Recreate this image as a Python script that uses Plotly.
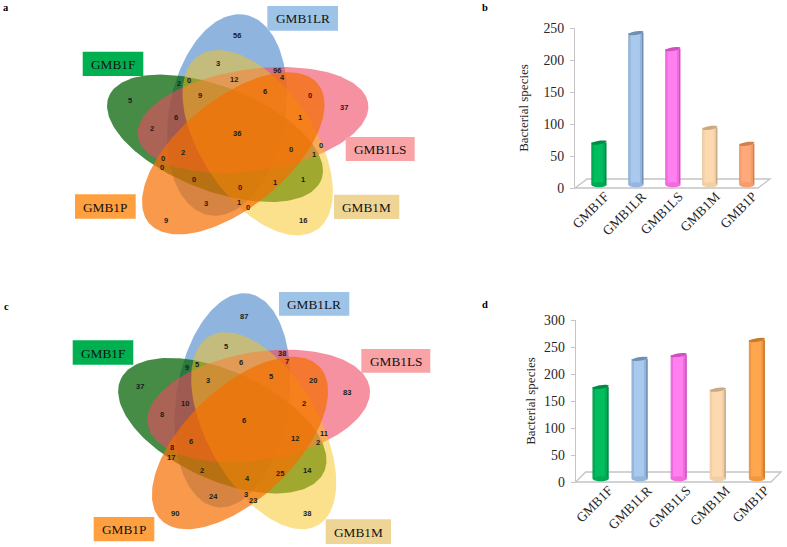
import numpy as np
import plotly.graph_objects as go

W, H = 787, 547

# ---- data ----
categories = ["GMB1F", "GMB1LR", "GMB1LS", "GMB1M", "GMB1P"]
species_b = [66, 237, 212, 89, 64]
species_d = [170, 222, 229, 165, 257]

counts_a = ["56", "3", "96", "12", "4", "2", "0", "5", "9", "6", "0", "37", "6", "1", "2", "36",
            "0", "0", "2", "1", "0", "0", "0", "1", "1", "0", "3", "1", "0", "9", "16"]
counts_c = ["87", "5", "38", "7", "6", "9", "5", "37", "3", "5", "20", "83", "10", "2", "8", "6",
            "11", "12", "6", "2", "8", "17", "2", "14", "25", "4", "3", "24", "23", "90", "38"]

# ---- layout of the diagrams (pixels) ----
pos_a = [(531,107),(475,191),(652,211),(522,237),(668,233),(357,250),(386,242),(211,302),(419,286),
         (616,274),(749,287),(852,322),(348,351),(721,351),(277,384),(531,400),(782,435),(692,448),
         (368,457),(762,462),(310,474),(305,502),(401,538),(645,546),(730,538),(541,562),(437,611),
         (537,608),(563,623),(318,660),(730,660)]
pos_c = [(551,110),(497,200),(667,220),(682,245),(542,248),(382,262),(412,253),(241,318),(443,300),
         (633,288),(760,300),(860,338),(374,371),(733,371),(306,404),(552,422),(792,460),(706,474),
         (393,483),(773,488),(337,502),(333,532),(427,570),(742,570),(660,579),(561,596),(557,644),
         (460,648),(580,660),(345,700),(741,700)]

venn_order = ["GMB1LR", "GMB1F", "GMB1LS", "GMB1M", "GMB1P"]
venn_fill = {"GMB1LR": "rgba(95,148,208,0.7)", "GMB1LS": "rgba(238,72,97,0.6)",
             "GMB1F": "rgba(8,102,8,0.75)", "GMB1M": "rgba(249,195,25,0.5)",
             "GMB1P": "rgba(245,110,0,0.7)"}
venn_angle = {"GMB1LR": 82, "GMB1LS": 10, "GMB1F": 154, "GMB1M": 118, "GMB1P": 46}
centres_a = {"GMB1LR": (227,115), "GMB1LS": (253,120), "GMB1F": (215,138.3),
             "GMB1M": (257.7,142.7), "GMB1P": (233.3,153.3)}
centres_c = {"GMB1LR": (232.3,400.3), "GMB1LS": (258.7,406), "GMB1F": (222.3,425.7),
             "GMB1M": (263.7,430.7), "GMB1P": (240,443)}

box_colour = {"GMB1F": "#00B050", "GMB1LR": "#9DC3E6", "GMB1LS": "#F9A3A6",
              "GMB1M": "#EFD595", "GMB1P": "#FFA040"}
boxes_a = {"GMB1LR": (267.3,6,338,30.7), "GMB1F": (82.7,51.7,143.3,76), "GMB1LS": (345.7,137,414.7,161),
           "GMB1M": (334,194.7,399.3,219), "GMB1P": (75,194.3,135.7,218.7)}
boxes_c = {"GMB1LR": (279,292,349.3,315.7), "GMB1F": (72.7,340.3,133.3,364.7), "GMB1LS": (361.3,349,430.3,372.7),
           "GMB1M": (325.7,519.3,391,544), "GMB1P": (93.7,517,154.3,541.3)}

ramps_b = [("#008a45","#00a954","#00bd5e"), ("#6f8fb5","#92b6dd","#a9caec"), ("#d050c0","#f26ae0","#ff80ee"),
           ("#c9a883","#f2cfa5","#fcd9ae"), ("#cf7f52","#f59c6c","#ffa97a")]
ramps_d = [("#008a45","#00a954","#00bd5e"), ("#6f8fb5","#92b6dd","#a9caec"), ("#d050c0","#f26ae0","#ff80ee"),
           ("#c9a883","#f2cfa5","#fcd9ae"), ("#c97a2c","#f0983f","#ffa64f")]

SERIF = "Liberation Serif"
SANS = "Liberation Sans"
GREY = "#c4c4c4"
TXT = "#262626"

fig = go.Figure()
shapes, notes = [], []

def venn(centres, counts, pos, boxes, ox, oy, sx, sy):
    t = np.linspace(0, 2*np.pi, 181)
    for name in venn_order:
        th = np.radians(venn_angle[name])
        u, v = np.cos(t), 0.5*np.sin(t)
        cx, cy = centres[name]
        px = cx + sx*(u*np.cos(th) - v*np.sin(th))
        py = cy - sy*(u*np.sin(th) + v*np.cos(th))
        fig.add_trace(go.Scatter(x=px, y=py, xaxis="x", yaxis="y", mode="lines", line=dict(width=0),
                                 fill="toself", fillcolor=venn_fill[name], hoverinfo="skip", showlegend=False))
    for s, (zx, zy) in zip(counts, pos):
        notes.append(dict(x=ox+zx/3, y=oy+zy/3, text=s, xref="x", yref="y", showarrow=False,
                          font=dict(family=SANS, size=7.5, color="#1c1c1c", weight="bold")))
    for name, (x0, y0, x1, y1) in boxes.items():
        shapes.append(dict(type="rect", x0=x0, x1=x1, y0=y0, y1=y1, xref="x", yref="y",
                           fillcolor=box_colour[name], line=dict(width=0), layer="above"))
        notes.append(dict(x=(x0+x1)/2, y=(y0+y1)/2+0.5, text=name, xref="x", yref="y", showarrow=False,
                          font=dict(family=SERIF, size=13.3, color="#111")))

venn(centres_a, counts_a, pos_a, boxes_a, 60, 0, 116.7, 101.5)
venn(centres_c, counts_c, pos_c, boxes_c, 60, 280, 112.6, 107.9)

def ellipse_path(cx, cy, rx, ry, tilt):
    t = np.linspace(0, 2*np.pi, 41)
    xs = cx + rx*np.cos(t)
    ys = cy + ry*np.sin(t) + tilt*np.cos(t)
    return "M" + "L".join(f"{a:.4f},{b:.3f}" for a, b in zip(xs, ys)) + "Z"

def bars(vals, ramps, ax, ay, lift, upp, width):
    idx = list(range(len(categories)))
    base = [lift]*len(vals)
    layers = [(1.0, 0), (0.90, 1), (0.62, 2)]
    for frac, k in layers:
        w = width*frac
        fig.add_trace(go.Bar(x=idx, y=vals, base=base, xaxis=ax, yaxis=ay, width=w,
                             offset=-w/2 - width*(0.05 if k else 0),
                             marker=dict(color=[r[k] for r in ramps], line=dict(width=0)),
                             hoverinfo="skip", showlegend=False))
    for i, v in enumerate(vals):
        hw = width/2
        shapes.append(dict(type="path", xref=ax, yref=ay, layer="above", line=dict(width=0),
                           path=ellipse_path(i, lift, hw, 2.5*upp, 0), fillcolor=ramps[i][1]))
        shapes.append(dict(type="path", xref=ax, yref=ay, layer="above", line=dict(width=0),
                           path=ellipse_path(i, v+lift, hw, 1.8*upp, 1.2*upp), fillcolor=ramps[i][0]))

bars(species_b, ramps_b, "x2", "y2", 5, 250/160, 0.405)
bars(species_d, ramps_d, "x3", "y3", 6, 300/162, 0.41)

# floors of the two bar panels
for (x0, x1, y0, dx, dy) in [(575, 758, 188, 12, 9), (575.7, 771, 482, 10, 10)]:
    shapes.append(dict(type="path", xref="x", yref="y", layer="below", line=dict(color=GREY, width=1.3),
                       path=f"M{x0},{y0}L{x1},{y0}L{x1+dx},{y0-dy}L{x0+dx},{y0-dy}Z", fillcolor="rgba(0,0,0,0)"))

for s, x, y in [("a", 6, 7), ("b", 485, 7), ("c", 6, 306), ("d", 485, 304)]:
    notes.append(dict(x=x, y=y, text=s, xref="x", yref="y", showarrow=False,
                      font=dict(family=SERIF, size=10.5, color="#000", weight="bold")))

def bar_axes(left, right, ytop, ybot):
    return dict(domain=[left/W, right/W]), dict(domain=[(H-ybot)/H, (H-ytop)/H])

xd2, yd2 = bar_axes(575, 758, 28, 188)
xd3, yd3 = bar_axes(575.7, 771, 320, 482)
common_x = dict(tickmode="array", tickvals=list(range(5)), ticktext=categories, tickangle=-45,
                tickfont=dict(family=SERIF, size=13.5, color=TXT), showgrid=False, zeroline=False,
                showline=False, ticks="", fixedrange=True, automargin=False, ticklabelstandoff=-3)
common_y = dict(showline=True, linecolor=GREY, linewidth=1.3, ticks="outside", ticklen=4, tickcolor=GREY,
                tickwidth=1, showgrid=False, zeroline=False, fixedrange=True, automargin=False,
                ticklabelstandoff=3, tickfont=dict(family=SERIF, size=13.8, color=TXT))
ttl = dict(text="Bacterial species", font=dict(family=SERIF, size=13, color=TXT))

fig.update_layout(
    width=W, height=H, margin=dict(l=0, r=0, t=0, b=0), paper_bgcolor="white", plot_bgcolor="rgba(0,0,0,0)",
    barmode="overlay", autosize=False, shapes=shapes, annotations=notes, showlegend=False,
    xaxis=dict(domain=[0, 1], range=[0, W], visible=False, fixedrange=True, automargin=False),
    yaxis=dict(domain=[0, 1], range=[H, 0], visible=False, fixedrange=True, automargin=False),
    xaxis2=dict(**xd2, **common_x, anchor="y2", range=[-0.65, 4.3], ticklabelshift=6),
    yaxis2=dict(**yd2, **common_y, anchor="x2", range=[0, 250], tickvals=[0, 50, 100, 150, 200, 250],
                title=dict(**ttl, standoff=11)),
    xaxis3=dict(**xd3, **common_x, anchor="y3", range=[-0.64, 4.36], ticklabelshift=8),
    yaxis3=dict(**yd3, **common_y, anchor="x3", range=[0, 300], tickvals=[0, 50, 100, 150, 200, 250, 300],
                title=dict(**ttl, standoff=5)),
)
fig.write_html("out.html", config=dict(displayModeBar=False),
               post_script="document.body.style.margin='0';document.documentElement.style.overflow='hidden';")
